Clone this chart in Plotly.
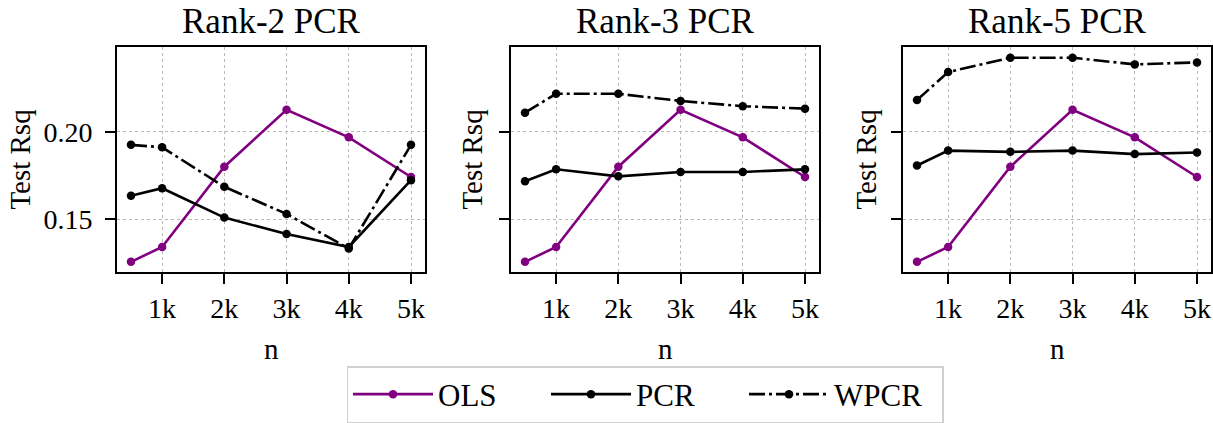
import plotly.graph_objects as go

# Sample sizes and tick labels
n_values = [500, 1000, 2000, 3000, 4000, 5000]
tick_vals = [1000, 2000, 3000, 4000, 5000]
tick_text = ["1k", "2k", "3k", "4k", "5k"]
panel_titles = ["Rank-2 PCR", "Rank-3 PCR", "Rank-5 PCR"]

# Test R^2 for each method
ols = [0.1256, 0.1341, 0.1800, 0.2125, 0.1968, 0.1741]
pcr_rank2 = [0.1634, 0.1677, 0.1509, 0.1415, 0.1341, 0.1723]
wpcr_rank2 = [0.1925, 0.1911, 0.1685, 0.1530, 0.1332, 0.1925]
pcr_rank3 = [0.1717, 0.1785, 0.1745, 0.1770, 0.1770, 0.1785]
wpcr_rank3 = [0.2109, 0.2217, 0.2217, 0.2176, 0.2146, 0.2132]
pcr_rank5 = [0.1807, 0.1892, 0.1885, 0.1892, 0.1872, 0.1881]
wpcr_rank5 = [0.2181, 0.2341, 0.2423, 0.2423, 0.2385, 0.2396]

W, H = 1213, 423
FONT = "Liberation Serif"
PURPLE = "#800080"
DASHDOT = "16px,4px,3px,4px"

panels = [
    (pcr_rank2, wpcr_rank2),
    (pcr_rank3, wpcr_rank3),
    (pcr_rank5, wpcr_rank5),
]
# horizontal extents of each axes box (px)
x_px = [(117, 425), (511, 819), (903, 1211)]
y_top_px, y_bot_px = 47, 273

fig = go.Figure()

for i, (pcr, wpcr) in enumerate(panels):
    sfx = "" if i == 0 else str(i + 1)
    show = i == 0
    common = dict(xaxis="x" + sfx, yaxis="y" + sfx, mode="lines+markers",
                  marker=dict(size=8.5, symbol="circle"))
    fig.add_trace(go.Scatter(x=n_values, y=ols, name="OLS", showlegend=show,
                             line=dict(color=PURPLE, width=2.6), **common))
    fig.add_trace(go.Scatter(x=n_values, y=pcr, name="PCR", showlegend=show,
                             line=dict(color="black", width=2.6), **common))
    fig.add_trace(go.Scatter(x=n_values, y=wpcr, name="WPCR", showlegend=show,
                             line=dict(color="black", width=2.6, dash=DASHDOT), **common))

axis_style = dict(
    showline=True, linecolor="black", linewidth=2, mirror=True,
    ticks="outside", ticklen=10, tickwidth=2, tickcolor="black",
    showgrid=True, gridcolor="#b8b8b8", gridwidth=0.8, griddash="dot",
    zeroline=False, tickfont=dict(family=FONT, size=28, color="black"),
)

layout = dict(
    width=W, height=H,
    margin=dict(l=0, r=0, t=0, b=0),
    paper_bgcolor="white", plot_bgcolor="white",
    font=dict(family=FONT, color="black"),
    showlegend=True,
    legend=dict(orientation="h", x=645 / W, xanchor="center", y=1 - 395 / H, yanchor="middle",
                bordercolor="#d0d0d0", borderwidth=1.5, font=dict(family=FONT, size=31),
                itemwidth=80, entrywidth=103, bgcolor="white"),
)

annotations = []
for i in range(3):
    sfx = "" if i == 0 else str(i + 1)
    x0, x1 = x_px[i]
    layout["xaxis" + sfx] = dict(
        domain=[x0 / W, x1 / W], range=[275, 5225], anchor="y" + sfx,
        tickvals=tick_vals, ticktext=tick_text, ticklabelstandoff=0, **axis_style)
    layout["yaxis" + sfx] = dict(
        domain=[1 - y_bot_px / H, 1 - y_top_px / H], range=[0.1196, 0.2485],
        anchor="x" + sfx, tickvals=[0.15, 0.20], ticktext=["0.15", "0.20"],
        ticklabelstandoff=7, showticklabels=(i == 0), **axis_style)
    cx = (x0 + x1) / 2 / W
    annotations.append(dict(text=panel_titles[i], x=cx, y=1 - 22 / H, xref="paper", yref="paper",
                            xanchor="center", yanchor="middle", showarrow=False,
                            font=dict(family=FONT, size=35)))
    annotations.append(dict(text="n", x=cx, y=1 - 350 / H, xref="paper", yref="paper",
                            xanchor="center", yanchor="middle", showarrow=False,
                            font=dict(family=FONT, size=29)))
    lab_x = [20, 472, 866][i]
    annotations.append(dict(text="Test Rsq", x=lab_x / W, y=1 - 160 / H, xref="paper", yref="paper",
                            xanchor="center", yanchor="middle", showarrow=False, textangle=-90,
                            font=dict(family=FONT, size=29)))

layout["annotations"] = annotations
fig.update_layout(**layout)
fig.write_html("out.html")
